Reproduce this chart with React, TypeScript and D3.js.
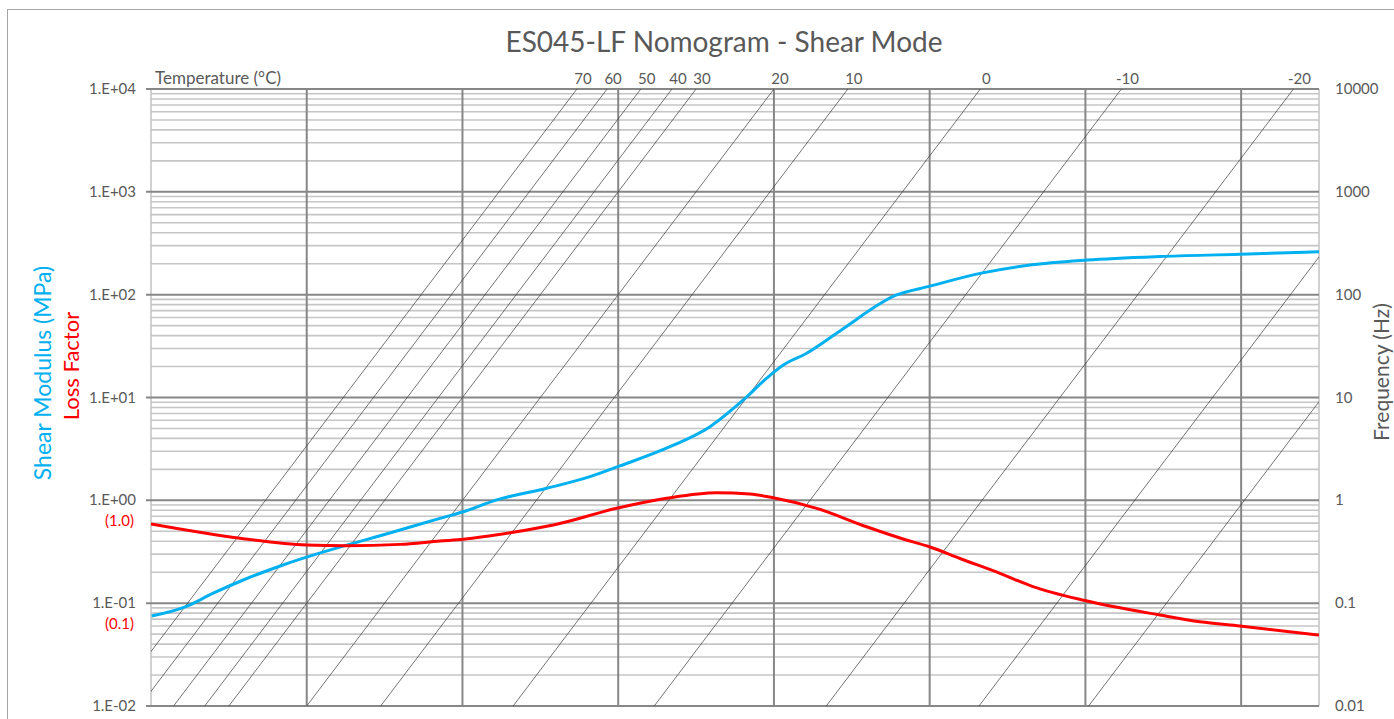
import * as d3 from 'd3'

// shear modulus (MPa) vs reduced frequency (Hz)
const modulusFr = [1.02e-4, 2.75e-4, 6.3e-4, 1.53e-3, 4.95e-3, 0.158, 0.514, 1.03, 2.75, 12.1, 43.5, 105, 462, 1510, 4040, 8070, 1.32e4, 2.63e4, 7.05e4, 3.77e5, 1.01e6, 4.43e6, 1.94e7, 1.04e8, 9.06e8, 9.66e9, 1e11]
const modulusValues = [0.075, 0.092, 0.125, 0.168, 0.235, 0.514, 0.668, 0.774, 1.01, 1.31, 1.7, 2.16, 3.32, 5.2, 9.46, 15.4, 20.7, 26.9, 44.4, 99.3, 121, 161, 194, 217, 235, 247, 262]

// loss factor vs reduced frequency (Hz)
const lossFr = [1e-4, 1.39e-3, 1e-2, 3.26e-2, 0.158, 0.514, 1.03, 4.5, 14.7, 95.5, 419, 1840, 4920, 9790, 3.54e4, 1.55e5, 4.16e5, 1.01e6, 2.45e6, 8.0e6, 2.12e7, 9.86e7, 9.06e8, 2.96e9, 9.66e9, 1e11]
const lossValues = [0.589, 0.428, 0.368, 0.362, 0.373, 0.402, 0.418, 0.489, 0.575, 0.836, 1.047, 1.186, 1.15, 1.06, 0.836, 0.553, 0.43, 0.352, 0.272, 0.195, 0.145, 0.106, 0.0767, 0.066, 0.06, 0.049]

// isotherms: temperature (°C) and shift factor aT
const temperatures = [70, 60, 50, 40, 30, 20, 10, 0, -10, -20, -30, -40]
const shiftFactors = [2.95e-3, 7.2e-3, 1.95e-2, 4.9e-2, 0.1, 1, 8.9, 447, 2.9e4, 4.7e6, 4.3e8, 1.1e10]

const yTicks = [1e-2, 1e-1, 1, 10, 100, 1000, 10000]
const leftTickLabels = ['1.E-02', '1.E-01', '1.E+00', '1.E+01', '1.E+02', '1.E+03', '1.E+04']
const rightTickLabels = ['0.01', '0.1', '1', '10', '100', '1000', '10000']
const lossTicks = [0.1, 1]
const lossTickLabels = ['(0.1)', '(1.0)']

const W = 1394
const H = 719
const left = 151, right = 1319, top = 89, bottom = 706
const font = 'Lato, "Open Sans", sans-serif'
const gray = '#595959'
const cyan = '#00B0F0'
const red = '#FF0000'

export default function App() {
  const x = d3.scaleLog().domain([1e-4, 1e11]).range([left, right])
  const y = d3.scaleLog().domain([1e-2, 1e4]).range([bottom, top])

  const minor: number[] = []
  for (let e = -2; e < 4; e++) for (let k = 2; k <= 9; k++) minor.push(k * Math.pow(10, e))
  const vMajor = d3.range(-2, 11, 2).map(e => Math.pow(10, e))

  const line = d3.line<[number, number]>()
    .x(d => x(d[0]))
    .y(d => y(d[1]))
    .curve(d3.curveMonotoneX)

  const modPath = line(modulusFr.map((f, i) => [f, modulusValues[i]]))
  const lossPath = line(lossFr.map((f, i) => [f, lossValues[i]]))

  return (
    <svg width={W} height={H} style={{ position: 'absolute', left: 0, top: 0 }} fontFamily={font}>
      <defs>
        <clipPath id='plot'>
          <rect x={left} y={top} width={right - left} height={bottom - top} />
        </clipPath>
      </defs>
      <rect x={0} y={0} width={W} height={H} fill='#fff' />
      <rect x={7.5} y={9.5} width={1420} height={740} fill='none' stroke='#a6a6a6' />

      <text x={724} y={52} textAnchor='middle' fontSize={28} fill={gray}>ES045-LF Nomogram - Shear Mode</text>
      <text x={155} y={84} fontSize={17} fill={gray}>Temperature (°C)</text>

      {/* grid */}
      {minor.map(v => (
        <line key={'m' + v} x1={left} x2={right} y1={y(v)} y2={y(v)} stroke='#c6c6c6' strokeWidth={1.6} />
      ))}
      <line x1={left} x2={left} y1={top} y2={bottom} stroke='#c6c6c6' strokeWidth={1.6} />
      <line x1={right} x2={right} y1={top} y2={bottom} stroke='#c6c6c6' strokeWidth={1.6} />
      {yTicks.map(v => (
        <line key={'M' + v} x1={left - 5} x2={right} y1={y(v)} y2={y(v)} stroke='#878787' strokeWidth={2} />
      ))}
      {vMajor.map(v => (
        <line key={'v' + v} x1={x(v)} x2={x(v)} y1={top} y2={bottom} stroke='#878787' strokeWidth={2} />
      ))}

      {/* isotherms */}
      <g clipPath='url(#plot)'>
        {shiftFactors.map((a, i) => (
          <line key={'t' + temperatures[i]} x1={x(1e-2 * a)} y1={y(1e-2)} x2={x(1e4 * a)} y2={y(1e4)}
            stroke='#3a3a3a' strokeWidth={0.7} />
        ))}
      </g>
      {shiftFactors.map((a, i) => {
        const px = x(1e4 * a)
        if (px < left || px > right) return null
        return (
          <text key={'tl' + temperatures[i]} x={px + 6} y={84} textAnchor='middle' fontSize={15} fill={gray}>
            {temperatures[i]}
          </text>
        )
      })}

      {/* curves */}
      <g clipPath='url(#plot)'>
        <path d={modPath ?? ''} fill='none' stroke={cyan} strokeWidth={3} />
        <path d={lossPath ?? ''} fill='none' stroke={red} strokeWidth={3} />
      </g>

      {/* axis labels */}
      {yTicks.map((v, i) => (
        <text key={'l' + v} x={136} y={y(v) + 5} textAnchor='end' fontSize={15} fill={gray}>{leftTickLabels[i]}</text>
      ))}
      {lossTicks.map((v, i) => (
        <text key={'ll' + v} x={134} y={y(v) + 26} textAnchor='end' fontSize={15} fill={red}>{lossTickLabels[i]}</text>
      ))}
      {yTicks.map((v, i) => (
        <text key={'r' + v} x={1335} y={y(v) + 5} fontSize={15} fill={gray}>{rightTickLabels[i]}</text>
      ))}

      <text transform='translate(51,373) rotate(-90)' textAnchor='middle' fontSize={23} fill={cyan}>Shear Modulus (MPa)</text>
      <text transform='translate(79,366) rotate(-90)' textAnchor='middle' fontSize={22} fill={red}>Loss Factor</text>
      <text transform='translate(1389,372) rotate(-90)' textAnchor='middle' fontSize={21} fill={gray}>Frequency (Hz)</text>
    </svg>
  )
}
